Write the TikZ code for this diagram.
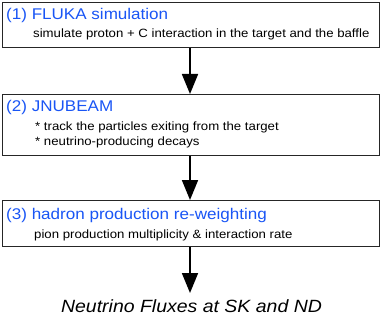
\documentclass[tikz,border=0pt]{standalone}
\usepackage{fontspec}
\setmainfont[FakeStretch=1.1]{Liberation Sans}
\usetikzlibrary{arrows.meta}
\definecolor{ttl}{RGB}{25,85,245}
\begin{document}
\begin{tikzpicture}[x=1pt,y=-1pt,
  stepbox/.style={draw=black!85,line width=0.9pt,minimum width=377pt,anchor=north west,inner sep=0pt},
  ttlstyle/.style={anchor=west,text=ttl,font=\fontsize{15.5}{17}\selectfont,inner sep=0pt},
  subt/.style={anchor=west,font=\fontsize{12}{14}\selectfont,inner sep=0pt},
  flow/.style={line width=1.8pt,-{Triangle[length=20pt,width=16pt]}}]
\useasboundingbox (0,0) rectangle (382,318);
\node[stepbox,minimum height=45pt] (b1) at (2,2) {};
\node[stepbox,minimum height=61pt] (b2) at (2,94) {};
\node[stepbox,minimum height=46pt] (b3) at (2,200) {};
\node[ttlstyle] (t1) at (6,15) {(1) FLUKA simulation};
\node[subt] (s1) at (33,34.5) {simulate proton + C interaction in the target and the baffle};
\node[ttlstyle] (t2) at (6,107) {(2) JNUBEAM};
\node[subt] (s2a) at (35,127) {* track the particles exiting from the target};
\node[subt] (s2b) at (35,142) {* neutrino-producing decays};
\node[ttlstyle] (t3) at (6,215) {(3) hadron production re-weighting};
\node[subt] (s3) at (34,235) {pion production multiplicity \& interaction rate};
\node[font=\fontsize{17.7}{19}\selectfont\itshape,inner sep=0pt] (out) at (191.5,306) {Neutrino Fluxes at SK and ND};
\coordinate (o) at (190,293);
\draw[flow] (b1.south -| o) -- (b2.north -| o);
\draw[flow] (b2.south -| o) -- (b3.north -| o);
\draw[flow] (b3.south -| o) -- (o);
\end{tikzpicture}
\end{document}
